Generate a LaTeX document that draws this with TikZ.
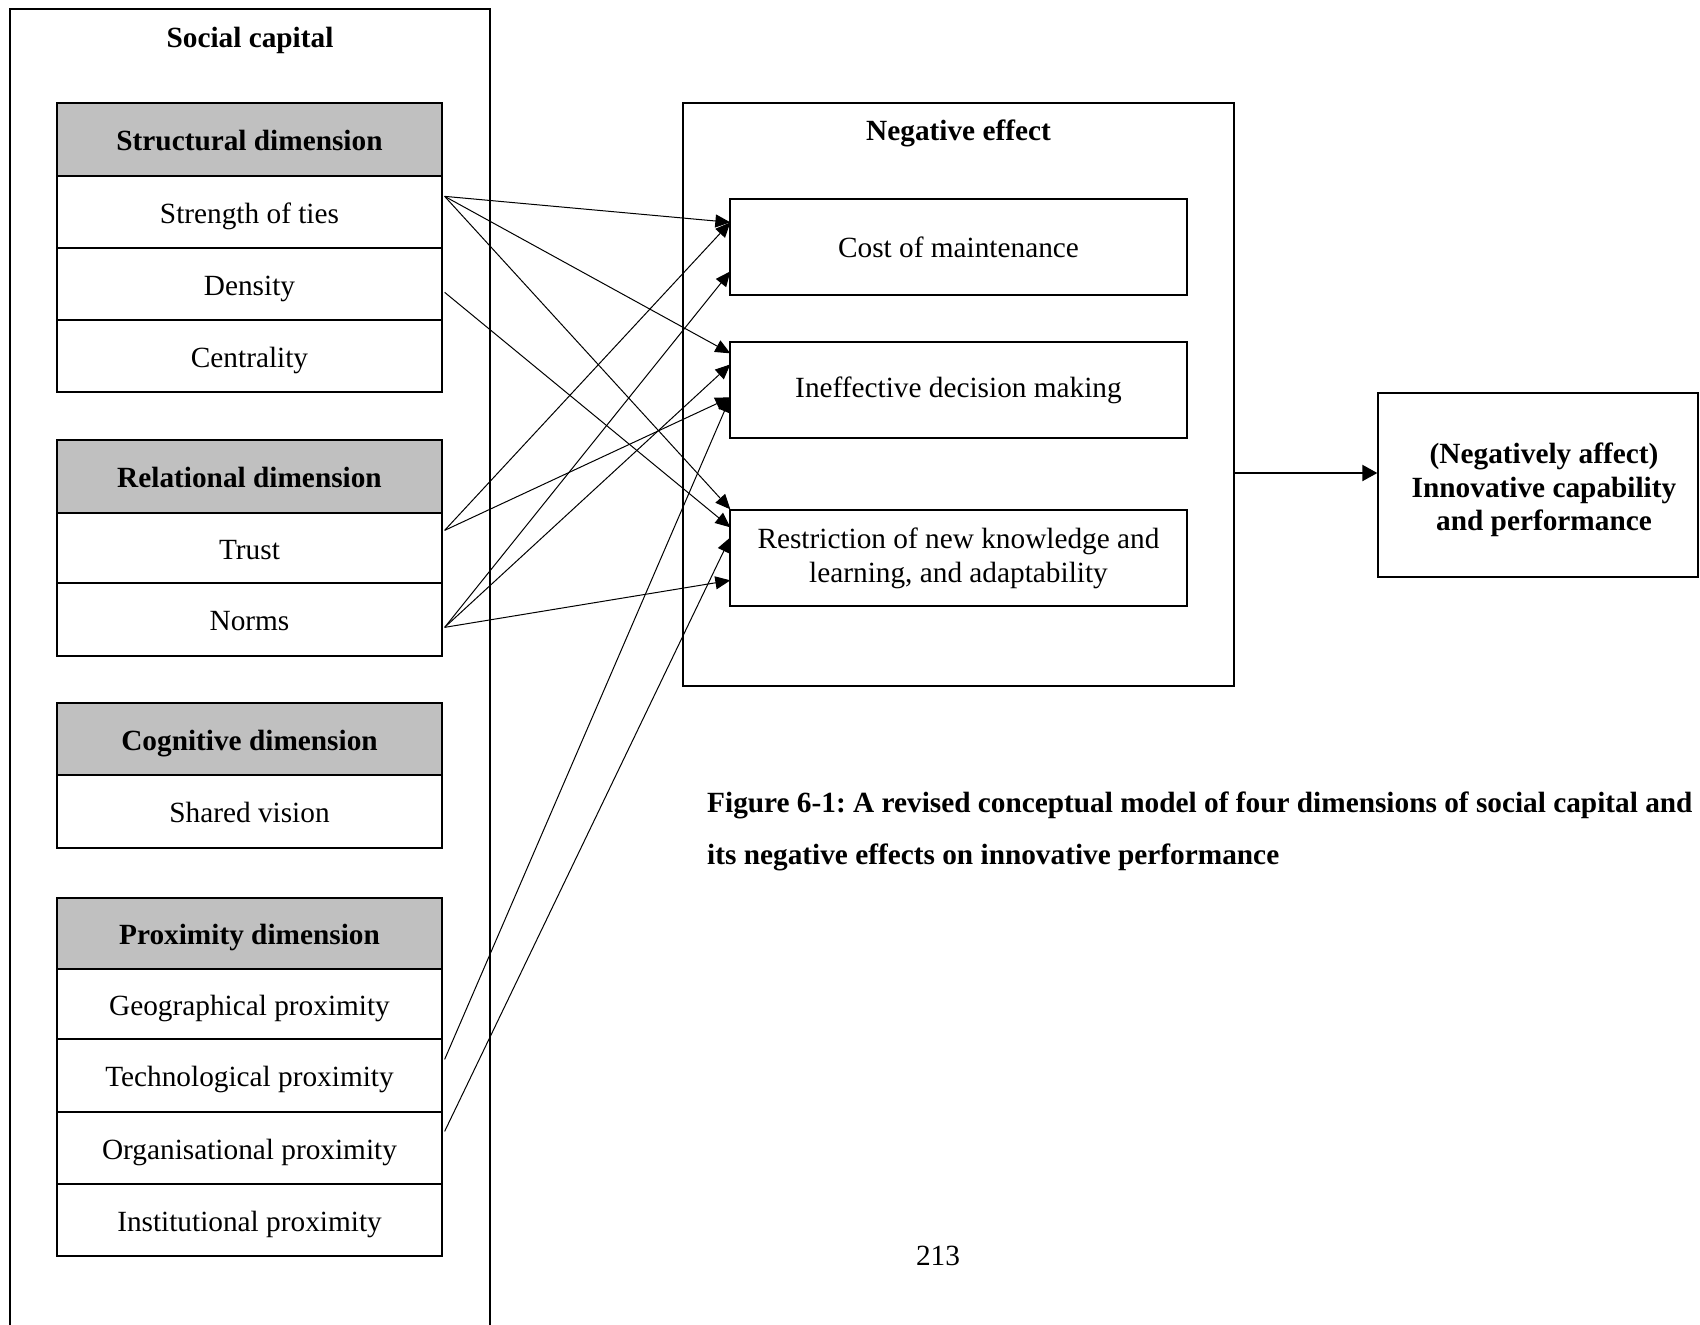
\documentclass[tikz,border=0pt]{standalone}
\usepackage{fontspec}
\setmainfont{Liberation Serif}
\usetikzlibrary{arrows.meta}
\definecolor{hdrgray}{RGB}{192,192,192}
\frenchspacing
\begin{document}
\begin{tikzpicture}[x=1pt,y=-1pt,
  every node/.style={inner sep=0pt, font=\fontsize{29.3}{34}\selectfont},
  cell/.style={draw, line width=1.3pt, minimum width=385pt, text height=28pt, text depth=6pt},
  hdr/.style={cell, fill=hdrgray, font=\fontsize{29.3}{34}\selectfont\bfseries},
  effbox/.style={draw, line width=1.3pt, minimum width=457pt, minimum height=96pt, align=center},
  link/.style={line width=1pt, -{Triangle[length=15pt,width=13pt]}},
  mainarrow/.style={line width=2pt, -{Triangle[length=15pt,width=16pt]}},
]
\useasboundingbox (0,0) rectangle (1700,1325);

% Social capital container (open at the page bottom)
\draw[line width=1.3pt] (10,1330) -- (10,9) -- (490,9) -- (490,1330);
\node[font=\fontsize{29.3}{34}\selectfont\bfseries] (sctitle) at (250,40) {Social capital};

% Structural dimension
\node[hdr, minimum height=73pt] (structh) at (249.5,139.5) {Structural dimension};
\node[cell, minimum height=72pt] (strength) at (249.5,212) {Strength of ties};
\node[cell, minimum height=72pt] (density) at (249.5,284) {Density};
\node[cell, minimum height=72pt] (centrality) at (249.5,356) {Centrality};

% Relational dimension
\node[hdr, minimum height=73pt] (relh) at (249.5,476.5) {Relational dimension};
\node[cell, minimum height=70pt] (trust) at (249.5,548) {Trust};
\node[cell, minimum height=73pt] (norms) at (249.5,619.5) {Norms};

% Cognitive dimension
\node[hdr, minimum height=72pt] (cogh) at (249.5,739) {Cognitive dimension};
\node[cell, minimum height=73pt] (shared) at (249.5,811.5) {Shared vision};

% Proximity dimension
\node[hdr, minimum height=71pt] (proxh) at (249.5,933.5) {Proximity dimension};
\node[cell, minimum height=70pt] (geo) at (249.5,1004) {Geographical proximity};
\node[cell, minimum height=73pt] (tech) at (249.5,1075.5) {Technological proximity};
\node[cell, minimum height=72pt] (org) at (249.5,1148) {Organisational proximity};
\node[cell, minimum height=72pt] (inst) at (249.5,1220) {Institutional proximity};

% Negative effect container
\node[draw, line width=1.3pt, minimum width=551pt, minimum height=583pt] (neg) at (958.5,394.5) {};
\node[font=\fontsize{29.3}{34}\selectfont\bfseries] (negtitle) at (958.5,133) {Negative effect};
\node[effbox] (cost) at (958.5,247) {Cost of maintenance};
\node[effbox] (ineff) at (958.5,390) {Ineffective decision making};
\node[effbox] (restr) at (958.5,558) {Restriction of new knowledge and\\learning, and adaptability};

% Outcome
\node[draw, line width=1.3pt, minimum width=320pt, minimum height=184pt, align=center,
      font=\fontsize{29.3}{33.5}\selectfont\bfseries] (out) at (1538,485)
      {\raisebox{0pt}[31pt][0pt]{}\hspace*{12pt}(Negatively affect)\\\hspace*{12pt}Innovative capability\\\hspace*{12pt}and performance};

% Caption and page number
\node[anchor=base west, font=\fontsize{29.3}{34}\selectfont\bfseries] (cap1) at (707,812)
  {Figure 6-1: A revised conceptual model of four dimensions of social capital and};
\node[anchor=base west, font=\fontsize{29.3}{34}\selectfont\bfseries] (cap2) at (707,864)
  {its negative effects on innovative performance};
\node (pagenum) at (938,1256) {213};

% Start points on the dimension items
\coordinate (sS)  at ([xshift=2pt,yshift=-21pt]strength.north east);
\coordinate (sD)  at ([xshift=2pt,yshift=-45pt]density.north east);
\coordinate (sT)  at ([xshift=2pt,yshift=-18pt]trust.north east);
\coordinate (sN)  at ([xshift=2pt,yshift=-45pt]norms.north east);
\coordinate (sTe) at ([xshift=2pt,yshift=-21pt]tech.north east);
\coordinate (sO)  at ([xshift=2pt,yshift=-20pt]org.north east);

% End points on the effect boxes
\coordinate (eC1) at ([xshift=1pt,yshift=-24pt]cost.north west);
\coordinate (eC2) at ([xshift=1pt,yshift=-73pt]cost.north west);
\coordinate (eI1) at ([xshift=1pt,yshift=-12pt]ineff.north west);
\coordinate (eI2) at ([xshift=1pt,yshift=-23pt]ineff.north west);
\coordinate (eI3) at ([xshift=1pt,yshift=-56pt]ineff.north west);
\coordinate (eR1) at ([xshift=1pt,yshift=0pt]restr.north west);
\coordinate (eR2) at ([xshift=1pt,yshift=-18pt]restr.north west);
\coordinate (eR3) at ([xshift=1pt,yshift=-28pt]restr.north west);
\coordinate (eR4) at ([xshift=1pt,yshift=-71pt]restr.north west);

% Links
\draw[link] (sS) -- (eC1);
\draw[link] (sS) -- (eI1);
\draw[link] (sS) -- (eR1);
\draw[link] (sD) -- (eR2);
\draw[link] (sT) -- (eC1);
\draw[link] (sT) -- (eI3);
\draw[link] (sN) -- (eC2);
\draw[link] (sN) -- (eI2);
\draw[link] (sN) -- (eR4);
\draw[link] (sTe) -- (eI3);
\draw[link] (sO) -- (eR3);

% Negative effect to outcome
\coordinate (outIn) at ([yshift=12pt]out.west);
\draw[mainarrow] (neg.east |- outIn) -- (outIn);
\end{tikzpicture}
\end{document}
